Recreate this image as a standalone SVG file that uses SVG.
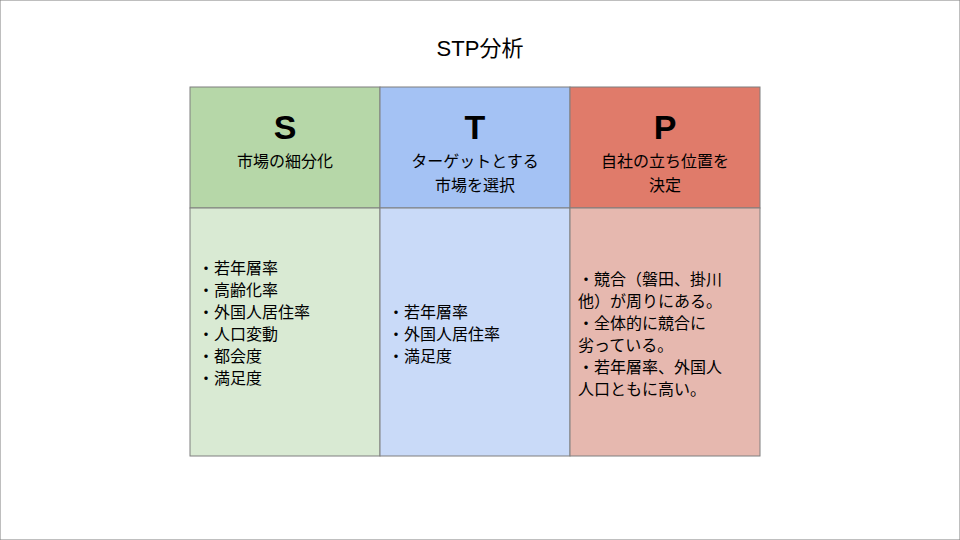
<svg xmlns="http://www.w3.org/2000/svg" width="960" height="540" viewBox="0 0 960 540">
<style>
text{font-family:"Liberation Sans","Noto Sans CJK JP",sans-serif;fill:#000}
.t{font-size:16px}
.h{font-size:34px;font-weight:bold;text-anchor:middle}
.c{text-anchor:middle}
rect{stroke:#7f7f7f;stroke-width:1}
</style>
<rect width="960" height="540" fill="#fff" stroke="none"/>
<text x="480" y="56" class="c" style="font-size:22px">STP分析</text>
<g id="S">
<rect x="190" y="87" width="190" height="121" fill="#b6d7a8"/>
<rect x="190" y="208" width="190" height="248" fill="#d9ead3"/>
<text x="285" y="139" class="h">S</text>
<text x="285" y="167" class="t c">市場の細分化</text>
<text class="t" x="198" y="274">・若年層率</text>
<text class="t" x="198" y="296">・高齢化率</text>
<text class="t" x="198" y="318">・外国人居住率</text>
<text class="t" x="198" y="340">・人口変動</text>
<text class="t" x="198" y="362">・都会度</text>
<text class="t" x="198" y="384">・満足度</text>
</g>
<g id="T">
<rect x="380" y="87" width="190" height="121" fill="#a4c2f4"/>
<rect x="380" y="208" width="190" height="248" fill="#c9daf8"/>
<text x="475" y="139" class="h">T</text>
<text x="475" y="167" class="t c">ターゲットとする</text>
<text x="475" y="191" class="t c">市場を選択</text>
<text class="t" x="388" y="318">・若年層率</text>
<text class="t" x="388" y="340">・外国人居住率</text>
<text class="t" x="388" y="362">・満足度</text>
</g>
<g id="P">
<rect x="570" y="87" width="190" height="121" fill="#e07b6a"/>
<rect x="570" y="208" width="190" height="248" fill="#e6b8af"/>
<text x="665" y="139" class="h">P</text>
<text x="665" y="167" class="t c">自社の立ち位置を</text>
<text x="665" y="191" class="t c">決定</text>
<text class="t" x="578" y="285">・競合（磐田、掛川</text>
<text class="t" x="578" y="307">他）が周りにある。</text>
<text class="t" x="578" y="329">・全体的に競合に</text>
<text class="t" x="578" y="351">劣っている。</text>
<text class="t" x="578" y="373">・若年層率、外国人</text>
<text class="t" x="578" y="395">人口ともに高い。</text>
</g>
<g id="connectors"/>
</svg>
